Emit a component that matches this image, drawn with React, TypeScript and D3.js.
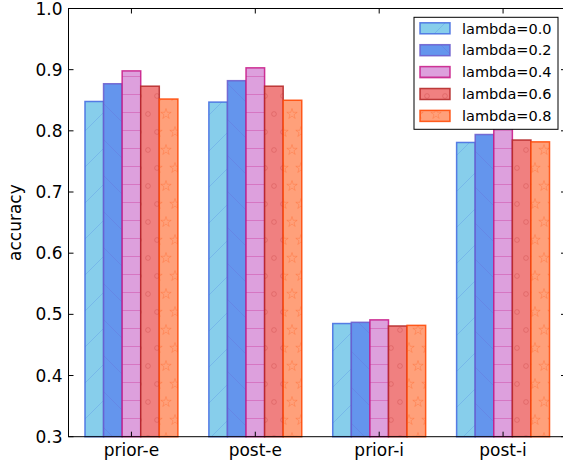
import React from 'react';
import * as d3 from 'd3';

const categories = ['prior-e', 'post-e', 'prior-i', 'post-i'];
const seriesNames = ['lambda=0.0', 'lambda=0.2', 'lambda=0.4', 'lambda=0.6', 'lambda=0.8'];
const lambda00 = [0.848, 0.847, 0.485, 0.781];
const lambda02 = [0.877, 0.882, 0.487, 0.794];
const lambda04 = [0.898, 0.903, 0.491, 0.812];
const lambda06 = [0.873, 0.873, 0.481, 0.785];
const lambda08 = [0.852, 0.850, 0.482, 0.782];
const yTicks = [0.3, 0.4, 0.5, 0.6, 0.7, 0.8, 0.9, 1.0];

const series = [lambda00, lambda02, lambda04, lambda06, lambda08];
const fills = ['#87ceeb', '#6495ed', '#dda0dd', '#f08080', '#ffa07a'];
const edges = ['#4169e1', '#6a5acd', '#c71585', '#b22222', '#ff4500'];
const hatches = ['slash', 'backslash', 'dash', 'circle', 'star'];

const W = 563;
const H = 465;
const left = 68.5;
const right = 566;
const top = 8.5;
const bottom = 436.7;
const barW = 0.15;
const font = 'DejaVu Sans, sans-serif';

const starPath = (cx: number, cy: number, r: number) => {
  const pts: string[] = [];
  for (let i = 0; i < 10; i++) {
    const rr = i % 2 === 0 ? r : r * 0.38;
    const a = -Math.PI / 2 + (i * Math.PI) / 5;
    pts.push(`${(cx + rr * Math.cos(a)).toFixed(2)},${(cy + rr * Math.sin(a)).toFixed(2)}`);
  }
  return 'M' + pts.join('L') + 'Z';
};

const Hatch = ({ id, kind, fill, edge }: { id: string; kind: string; fill: string; edge: string }) => {
  const op = 0.22;
  if (kind === 'slash' || kind === 'backslash') {
    const s = 36;
    const d = kind === 'slash'
      ? `M0,${s} L${s},0 M${-s / 2},${s / 2} L${s / 2},${-s / 2} M${s / 2},${s * 1.5} L${s * 1.5},${s / 2}`
      : `M0,0 L${s},${s} M${-s / 2},${s / 2} L${s / 2},${s * 1.5} M${s / 2},${-s / 2} L${s * 1.5},${s / 2}`;
    return (
      <pattern id={id} patternUnits="userSpaceOnUse" width={s} height={s}>
        <rect width={s} height={s} fill={fill} />
        <path d={d} stroke={edge} strokeOpacity={op} strokeWidth={1} />
      </pattern>
    );
  }
  if (kind === 'dash') {
    return (
      <pattern id={id} patternUnits="userSpaceOnUse" width={18} height={18} y={4}>
        <rect width={18} height={18} fill={fill} />
        <line x1={0} x2={18} y1={0.5} y2={0.5} stroke={edge} strokeOpacity={0.3} strokeWidth={1} />
      </pattern>
    );
  }
  const spots = [[0, 0], [18, 0], [9, 18], [0, 36], [18, 36]];
  return (
    <pattern id={id} patternUnits="userSpaceOnUse" width={18} height={36} x={4} y={6}>
      <rect width={18} height={36} fill={fill} />
      {spots.map(([x, y], i) =>
        kind === 'circle' ? (
          <circle key={i} cx={x} cy={y} r={2.4} fill="none" stroke={edge} strokeOpacity={op} strokeWidth={1} />
        ) : (
          <path key={i} d={starPath(x, y, 5.5)} fill="none" stroke={edge} strokeOpacity={op} strokeWidth={1} />
        )
      )}
    </pattern>
  );
};

const App = () => {
  const x = d3.scaleLinear().domain([-0.133, 3.883]).range([left, right]);
  const y = d3.scaleLinear().domain([0.3, 1.0]).range([bottom, top]);
  const bw = x(barW) - x(0);
  const tickX = categories.map((_, i) => x(i + (barW * series.length) / 2));

  const legX = 414;
  const legY = 17.3;
  const rowH = 21.9;

  return (
    <svg width={W} height={H} style={{ position: 'absolute', left: 0, top: 0, background: '#fff' }}>
      <defs>
        {series.map((_, k) => (
          <Hatch key={k} id={`h${k}`} kind={hatches[k]} fill={fills[k]} edge={edges[k]} />
        ))}
      </defs>
      <rect width={W} height={H} fill="#fff" />

      {series.map((vals, k) =>
        vals.map((v, i) => (
          <rect
            key={`${k}-${i}`}
            x={x(i + k * barW)}
            y={y(v)}
            width={bw}
            height={y(0.3) - y(v)}
            fill={`url(#h${k})`}
            stroke={edges[k]}
            strokeOpacity={0.85}
            strokeWidth={1.5}
          />
        ))
      )}

      {/* frame */}
      <rect x={left} y={top} width={right - left} height={bottom - top} fill="none" stroke="#000" strokeWidth={1} />

      {yTicks.map((t) => (
        <g key={t}>
          <line x1={left} x2={left + 5} y1={y(t)} y2={y(t)} stroke="#000" />
          <line x1={right - 5} x2={right} y1={y(t)} y2={y(t)} stroke="#000" />
          <text x={62.5} y={y(t)} dy="0.36em" textAnchor="end" fontFamily={font} fontSize={17}>
            {d3.format('.1f')(t)}
          </text>
        </g>
      ))}

      {categories.map((c, i) => (
        <g key={c}>
          <line x1={tickX[i]} x2={tickX[i]} y1={bottom} y2={bottom - 5} stroke="#000" />
          <line x1={tickX[i]} x2={tickX[i]} y1={top} y2={top + 5} stroke="#000" />
          <text x={tickX[i]} y={456} textAnchor="middle" fontFamily={font} fontSize={17}>
            {c}
          </text>
        </g>
      ))}

      <text transform={`translate(21,${(top + bottom) / 2}) rotate(-90)`} textAnchor="middle" fontFamily={font} fontSize={17}>
        accuracy
      </text>

      <g>
        <rect x={legX} y={legY} width={144} height={112} fill="#fff" stroke="#000" strokeWidth={1} />
        {seriesNames.map((name, k) => {
          const cy = legY + 11 + k * rowH;
          return (
            <g key={name}>
              <rect x={420} y={cy - 5.5} width={30} height={11} fill={`url(#h${k})`} stroke={edges[k]} strokeOpacity={0.85} strokeWidth={1.5} />
              <text x={462} y={cy} dy="0.36em" fontFamily={font} fontSize={14.5}>
                {name}
              </text>
            </g>
          );
        })}
      </g>
    </svg>
  );
};

export default App;
